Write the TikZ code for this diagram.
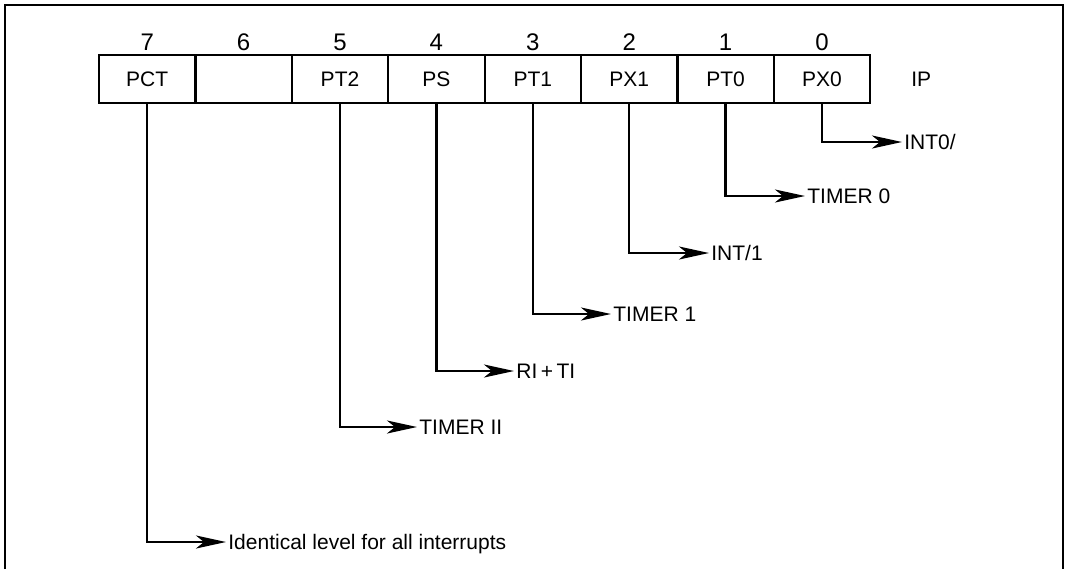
\documentclass[tikz,border=0pt]{standalone}
\usepackage{fontspec}
\setmainfont{Liberation Sans}
\usetikzlibrary{arrows.meta,positioning}

\begin{document}
\begin{tikzpicture}[
    x=0.5pt, y=0.5pt,
    font=\fontsize{10.5}{12}\selectfont,
    bit/.style={draw=black, line width=1.1pt, minimum width=48.2pt, minimum height=24pt, inner sep=0pt, outer sep=0pt},
    num/.style={inner sep=2pt, font=\fontsize{12}{14}\selectfont},
    sig/.style={anchor=west, inner sep=1pt, text height=7.5pt, text depth=0pt},
    arr/.style={-{Stealth[length=15pt, width=6.5pt, inset=4pt]}, line width=1.2pt}
  ]
    \useasboundingbox (0,0) rectangle (1065,-569);
    \draw[line width=0.9pt] (5,-569) -- (5,-5) -- (1063,-5) -- (1063,-569);
    % register IP
    \node[bit] (pct) at (147.2,-79) {PCT};
    \node[bit, right=0pt of pct] (b6) {};
    \node[bit, right=0pt of b6] (pt2) {PT2};
    \node[bit, right=0pt of pt2] (ps) {PS};
    \node[bit, right=0pt of ps] (pt1) {PT1};
    \node[bit, right=0pt of pt1] (px1) {PX1};
    \node[bit, right=0pt of px1] (pt0) {PT0};
    \node[bit, right=0pt of pt0] (px0) {PX0};
    \node[right=17pt of px0] (ip) {IP};
    % bit numbers
    \node[num, above=0pt of pct] (n7) {7};
    \node[num, above=0pt of b6] (n6) {6};
    \node[num, above=0pt of pt2] (n5) {5};
    \node[num, above=0pt of ps] (n4) {4};
    \node[num, above=0pt of pt1] (n3) {3};
    \node[num, above=0pt of px1] (n2) {2};
    \node[num, above=0pt of pt0] (n1) {1};
    \node[num, above=0pt of px0] (n0) {0};
    % sources
    \node[sig] (int0) at (902,-142) {INT0/};
    \node[sig] (tim0) at (805,-196) {TIMER 0};
    \node[sig] (int1) at (709,-253) {INT/1};
    \node[sig] (tim1) at (611,-314) {TIMER 1};
    \node[sig] (riti) at (514,-371) {RI\,+\,TI};
    \node[sig] (tim2) at (417,-427) {TIMER II};
    \node[sig] (all) at (226,-542) {Identical level for all interrupts};
    \draw[arr] (px0.south) |- (int0.west);
    \draw[arr] (pt0.south) |- (tim0.west);
    \draw[arr] (px1.south) |- (int1.west);
    \draw[arr] (pt1.south) |- (tim1.west);
    \draw[arr] (ps.south) |- (riti.west);
    \draw[arr] (pt2.south) |- (tim2.west);
    \draw[arr] (pct.south) |- (all.west);
\end{tikzpicture}
\end{document}
